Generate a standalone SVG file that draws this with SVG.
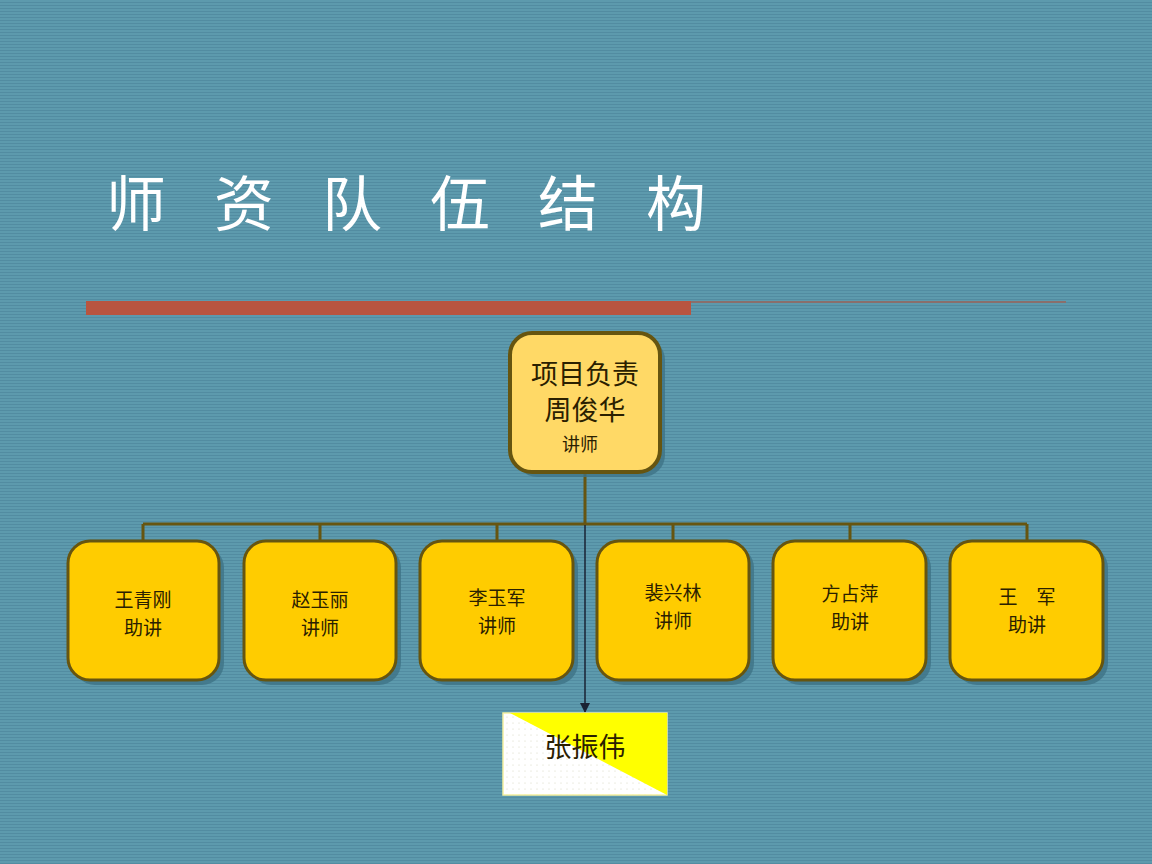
<svg xmlns="http://www.w3.org/2000/svg" width="1152" height="864" viewBox="0 0 1152 864">
<style>
.box{fill:#ffcc00;stroke:#665510;stroke-width:3}
.shadow{fill:#3e7386;opacity:0.8}
.t{font-family:"Noto Sans CJK SC","Noto Sans CJK JP",sans-serif;fill:#2a2000;text-anchor:middle}
.c{font-size:19px}
.bus{stroke:#665510;stroke-width:3;fill:none}
</style>
<defs>
<pattern id="bg" width="8" height="3" patternUnits="userSpaceOnUse">
<rect width="8" height="3" fill="#5d9aad"/>
<rect y="2" width="8" height="1" fill="#528ca1"/>
</pattern>
<pattern id="dots" width="6" height="6" patternUnits="userSpaceOnUse">
<rect width="6" height="6" fill="#ffffff"/>
<circle cx="3" cy="3" r="0.6" fill="#d8d8c0"/>
</pattern>
<marker id="arr" viewBox="0 0 10 10" refX="9" refY="5" markerWidth="7" markerHeight="7" orient="auto">
<path d="M0,0 L10,5 L0,10 Z" fill="#1a2233"/>
</marker>
</defs>
<rect width="1152" height="864" fill="url(#bg)"/>
<g id="title">
<text x="106" y="226" font-family="Noto Sans CJK SC, sans-serif" font-size="60" fill="#ffffff" letter-spacing="48">师资队伍结构</text>
</g>
<g id="rule">
<rect x="86" y="301" width="605" height="14" fill="#b85540"/>
<line x1="691" y1="302" x2="1066" y2="302" stroke="#8a6f6c" stroke-width="2"/>
</g>
<g id="connectors">
<line x1="585" y1="472" x2="585" y2="524" stroke="#665510" stroke-width="3"/>
<line x1="143" y1="524" x2="1027" y2="524" class="bus"/>
<path class="bus" d="M143,524V541M320,524V541M497,524V541M673,524V541M850,524V541M1027,524V541"/>
<line x1="585" y1="525" x2="585" y2="712" stroke="#1a2233" stroke-width="1.5" marker-end="url(#arr)"/>
</g>
<g id="node-head">
<rect x="515" y="338" width="150" height="139" rx="22" class="shadow"/>
<rect x="510" y="333" width="150" height="139" rx="22" fill="#ffd966" stroke="#665510" stroke-width="4"/>
<text x="585" y="384" class="t" font-size="27">项目负责</text>
<text x="585" y="420" class="t" font-size="27">周俊华</text>
<text x="580" y="451" class="t" font-size="18">讲师</text>
</g>
<g id="node-1">
<rect x="73" y="546" width="151" height="139" rx="22" class="shadow"/>
<rect x="68" y="541" width="151" height="139" rx="22" class="box"/>
<text x="143" y="607" class="t c">王青刚</text>
<text x="143" y="635" class="t c">助讲</text>
</g>
<g id="node-2">
<rect x="249" y="546" width="152" height="139" rx="22" class="shadow"/>
<rect x="244" y="541" width="152" height="139" rx="22" class="box"/>
<text x="320" y="607" class="t c">赵玉丽</text>
<text x="320" y="635" class="t c">讲师</text>
</g>
<g id="node-3">
<rect x="425" y="546" width="153" height="139" rx="22" class="shadow"/>
<rect x="420" y="541" width="153" height="139" rx="22" class="box"/>
<text x="497" y="605" class="t c">李玉军</text>
<text x="497" y="633" class="t c">讲师</text>
</g>
<g id="node-4">
<rect x="602" y="546" width="152" height="139" rx="22" class="shadow"/>
<rect x="597" y="541" width="152" height="139" rx="22" class="box" stroke-width="4"/>
<text x="673" y="600" class="t c">裴兴林</text>
<text x="673" y="628" class="t c">讲师</text>
</g>
<g id="node-5">
<rect x="778" y="546" width="153" height="139" rx="22" class="shadow"/>
<rect x="773" y="541" width="153" height="139" rx="22" class="box"/>
<text x="850" y="601" class="t c">方占萍</text>
<text x="850" y="629" class="t c">助讲</text>
</g>
<g id="node-6">
<rect x="955" y="546" width="153" height="139" rx="22" class="shadow"/>
<rect x="950" y="541" width="153" height="139" rx="22" class="box"/>
<text x="1027" y="604" class="t c" xml:space="preserve">王　军</text>
<text x="1027" y="632" class="t c">助讲</text>
</g>
<g id="node-zhang">
<rect x="503" y="713" width="164" height="82" fill="url(#dots)" stroke="#f4f0a0" stroke-width="1.5"/>
<polygon points="510,713 667,713 667,795" fill="#ffff00"/>
<text x="585" y="757" class="t" font-size="27">张振伟</text>
</g>
</svg>
